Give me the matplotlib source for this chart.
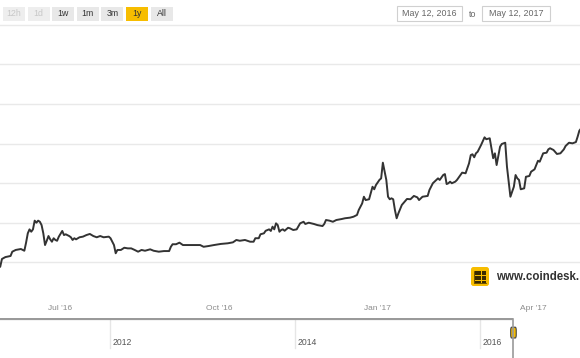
#!/usr/bin/env python3
"""Precio de bitcoin (CoinDesk) may 2016 - abr 2017, con barra de rangos y navegador."""

import matplotlib
matplotlib.use("Agg")
import matplotlib.pyplot as plt
from matplotlib.patches import FancyBboxPatch, Rectangle
import pandas as pd

plt.rcParams["font.family"] = ["Liberation Sans", "DejaVu Sans"]

# --- datos ---
dates = [
    "2016-05-26", "2016-05-27", "2016-05-28", "2016-05-30", "2016-06-02", "2016-06-03",
    "2016-06-05", "2016-06-08", "2016-06-10", "2016-06-11", "2016-06-12", "2016-06-13",
    "2016-06-14", "2016-06-15", "2016-06-16", "2016-06-17", "2016-06-18", "2016-06-19",
    "2016-06-20", "2016-06-21", "2016-06-22", "2016-06-23", "2016-06-24", "2016-06-25",
    "2016-06-26", "2016-06-27", "2016-06-28", "2016-06-29", "2016-06-30", "2016-07-02",
    "2016-07-03", "2016-07-04", "2016-07-06", "2016-07-07", "2016-07-08", "2016-07-09",
    "2016-07-10", "2016-07-12", "2016-07-14", "2016-07-16", "2016-07-18", "2016-07-20",
    "2016-07-22", "2016-07-24", "2016-07-26", "2016-07-29", "2016-07-30", "2016-08-01",
    "2016-08-02", "2016-08-03", "2016-08-05", "2016-08-07", "2016-08-09", "2016-08-11",
    "2016-08-13", "2016-08-15", "2016-08-17", "2016-08-19", "2016-08-22", "2016-08-24",
    "2016-08-27", "2016-08-30", "2016-09-02", "2016-09-03", "2016-09-04", "2016-09-06",
    "2016-09-08", "2016-09-10", "2016-09-13", "2016-09-16", "2016-09-20", "2016-09-22",
    "2016-09-25", "2016-09-28", "2016-10-02", "2016-10-06", "2016-10-09", "2016-10-11",
    "2016-10-13", "2016-10-16", "2016-10-19", "2016-10-21", "2016-10-22", "2016-10-24",
    "2016-10-25", "2016-10-27", "2016-10-28", "2016-10-30", "2016-10-31", "2016-11-01",
    "2016-11-02", "2016-11-03", "2016-11-04", "2016-11-05", "2016-11-06", "2016-11-07",
    "2016-11-08", "2016-11-10", "2016-11-11", "2016-11-13", "2016-11-15", "2016-11-17",
    "2016-11-19", "2016-11-20", "2016-11-22", "2016-11-25", "2016-11-27", "2016-11-30",
    "2016-12-01", "2016-12-02", "2016-12-04", "2016-12-06", "2016-12-08", "2016-12-11",
    "2016-12-13", "2016-12-16", "2016-12-18", "2016-12-20", "2016-12-21", "2016-12-23",
    "2016-12-24", "2016-12-25", "2016-12-27", "2016-12-29", "2016-12-30", "2016-12-31",
    "2017-01-02", "2017-01-03", "2017-01-04", "2017-01-06", "2017-01-07", "2017-01-08",
    "2017-01-09", "2017-01-10", "2017-01-11", "2017-01-12", "2017-01-13", "2017-01-14",
    "2017-01-15", "2017-01-18", "2017-01-20", "2017-01-22", "2017-01-24", "2017-01-25",
    "2017-01-27", "2017-01-30", "2017-01-31", "2017-02-02", "2017-02-04", "2017-02-05",
    "2017-02-06", "2017-02-08", "2017-02-09", "2017-02-10", "2017-02-11", "2017-02-12",
    "2017-02-13", "2017-02-15", "2017-02-16", "2017-02-18", "2017-02-19", "2017-02-21",
    "2017-02-22", "2017-02-23", "2017-02-24", "2017-02-25", "2017-02-26", "2017-02-27",
    "2017-02-28", "2017-03-02", "2017-03-04", "2017-03-05", "2017-03-07", "2017-03-08",
    "2017-03-09", "2017-03-10", "2017-03-11", "2017-03-13", "2017-03-14", "2017-03-16",
    "2017-03-17", "2017-03-19", "2017-03-21", "2017-03-22", "2017-03-23", "2017-03-24",
    "2017-03-25", "2017-03-27", "2017-03-28", "2017-03-30", "2017-03-31", "2017-04-02",
    "2017-04-04", "2017-04-05", "2017-04-07", "2017-04-09", "2017-04-10", "2017-04-11",
    "2017-04-13", "2017-04-15", "2017-04-17", "2017-04-19", "2017-04-20", "2017-04-22",
    "2017-04-24", "2017-04-26", "2017-04-27", "2017-04-28", "2017-04-29",
]
prices = [
    466, 472, 521, 533, 540, 567,
    578, 584, 573, 624, 683, 708,
    693, 708, 763, 750, 763, 756,
    735, 683, 609, 636, 666, 645,
    630, 652, 641, 636, 662, 698,
    672, 677, 666, 658, 641, 652,
    645, 658, 662, 672, 679, 666,
    658, 666, 658, 662, 652, 609,
    557, 578, 578, 592, 588, 588,
    578, 567, 578, 573, 582, 573,
    567, 571, 571, 598, 614, 614,
    624, 609, 609, 609, 609, 598,
    603, 609, 616, 620, 626, 641,
    636, 641, 630, 630, 652, 652,
    677, 683, 699, 708, 698, 725,
    708, 746, 735, 693, 704, 708,
    699, 718, 715, 704, 708, 746,
    756, 742, 750, 742, 735, 729,
    742, 767, 763, 756, 767, 773,
    778, 782, 788, 799, 830, 872,
    914, 893, 898, 977, 961, 988,
    1020, 1030, 1129, 1020, 914, 898,
    904, 898, 830, 778, 809, 835,
    862, 900, 898, 919, 910, 893,
    914, 919, 956, 999, 1020, 1030,
    1020, 1051, 1057, 994, 999, 1009,
    999, 1009, 1020, 1051, 1066, 1062,
    1093, 1125, 1177, 1182, 1163, 1188,
    1198, 1241, 1289, 1277, 1283, 1220,
    1157, 1188, 1114, 1230, 1247, 1255,
    1104, 914, 977, 1051, 1030, 1020,
    961, 967, 1040, 1045, 1072, 1087,
    1141, 1135, 1188, 1192, 1213, 1220,
    1209, 1184, 1188, 1213, 1234, 1255,
    1251, 1259, 1293, 1331, 1345,
]

x_ticks = ["2016-07-01", "2016-10-01", "2017-01-01", "2017-04-01"]
x_tick_labels = ["Jul '16", "Oct '16", "Jan '17", "Apr '17"]
y_grid = [500, 750, 1000, 1250, 1500, 1750, 2000]

range_buttons = ["12h", "1d", "1w", "1m", "3m", "1y", "All"]
disabled_buttons = ["12h", "1d"]
selected_button = "1y"
range_from = "May 12, 2016"
range_to = "May 12, 2017"

nav_years = [2012, 2014, 2016]
nav_range_start = "2016-05-12"

watermark = "www.coindesk."

YELLOW = "#f7bd00"


def year_fraction(ts):
    start = pd.Timestamp(year=ts.year, month=1, day=1)
    end = pd.Timestamp(year=ts.year + 1, month=1, day=1)
    return ts.year + (ts - start) / (end - start)


def main():
    W, H = 580, 358
    fig = plt.figure(figsize=(W / 100, H / 100), dpi=100)

    # grafico principal
    ax = fig.add_axes([0, 1 - 297 / H, 1, 273 / H])
    ax.plot(pd.to_datetime(dates), prices, color="#333333", lw=1.4,
            solid_joinstyle="round")
    ax.set_xlim(pd.Timestamp("2016-05-26 21:00"), pd.Timestamp("2017-04-28 09:00"))
    ax.set_ylim(281, 2004.4)
    ax.set_yticks(y_grid)
    ax.set_yticklabels([])
    ax.set_xticks(pd.to_datetime(x_ticks))
    ax.set_xticklabels(x_tick_labels)
    ax.tick_params(axis="both", length=0)
    ax.tick_params(axis="x", pad=6, labelsize=6, labelcolor="#8c8c8c")
    ax.grid(axis="y", color="#e9e9e9", lw=1)
    ax.set_axisbelow(True)
    for s in ax.spines.values():
        s.set_visible(False)

    # navegador
    nav = fig.add_axes([0, 0, 1, 40 / H])
    nav.set_xlim(2010.81, 2017.08)
    nav.set_ylim(0, 1)
    nav.axis("off")
    handle_x = year_fraction(pd.Timestamp(nav_range_start))
    for yr in nav_years:
        nav.plot([yr, yr], [0.25, 0.975], color="#e6e6e6", lw=1)
        nav.text(yr + 0.025, 0.38, str(yr), fontsize=6.2, color="#555555",
                 ha="left", va="center")
    nav.plot([2010.81, handle_x], [0.975, 0.975], color="#9a9a9a", lw=1.6,
             solid_capstyle="butt")
    nav.plot([handle_x, handle_x], [0, 0.975], color="#9a9a9a", lw=1.2)
    hw = 0.03
    nav.add_patch(FancyBboxPatch((handle_x - hw, 0.5), 2 * hw, 0.27,
                                 boxstyle="round,pad=0,rounding_size=0.01",
                                 fc=YELLOW, ec="#444444", lw=0.8,
                                 mutation_aspect=8))

    # capa de interfaz (botones, fechas, marca de agua) en pixeles
    ui = fig.add_axes([0, 0, 1, 1])
    ui.set_xlim(0, W)
    ui.set_ylim(H, 0)
    ui.axis("off")

    for i, label in enumerate(range_buttons):
        x0 = 3 + i * 24.6
        if label == selected_button:
            fc, tc = YELLOW, "#333333"
        elif label in disabled_buttons:
            fc, tc = "#eeeeee", "#c8c8c8"
        else:
            fc, tc = "#e8e8e8", "#333333"
        ui.add_patch(Rectangle((x0, 7), 22, 13.5, fc=fc, ec="none"))
        ui.text(x0 + 11, 13.8, label, fontsize=6.3, color=tc, ha="center", va="center")

    for x0, x1, txt in [(397, 462, range_from), (482, 550, range_to)]:
        ui.add_patch(Rectangle((x0, 6), x1 - x0, 15, fc="white", ec="#d0d0d0", lw=0.8))
        ui.text((x0 + x1) / 2, 13.8, txt, fontsize=6.4, color="#666666",
                ha="center", va="center")
    ui.text(473, 14.5, "to", fontsize=6.4, color="#666666", ha="center", va="center")

    # marca de agua coindesk
    ui.add_patch(FancyBboxPatch((471, 267), 18, 19,
                                boxstyle="round,pad=0,rounding_size=2.5",
                                fc=YELLOW, ec="none"))
    gx = [475.5 + 2.4 * i for i in range(5)]
    gy = [271.5 + 2.5 * j for j in range(5)]
    ui.scatter([x for x in gx for _ in gy], [y for _ in gx for y in gy],
               s=1.1, marker="s", color="#3a2a00", lw=0)
    ui.plot([474.3, 474.3, 486], [270.5, 283.3, 283.3], color="#3a2a00", lw=0.5)
    ui.text(496, 277, watermark, fontsize=8.3, fontweight="bold",
            color="#333333", ha="left", va="center")

    fig.savefig("out.png", dpi=100)
    return 0


if __name__ == "__main__":
    main()
